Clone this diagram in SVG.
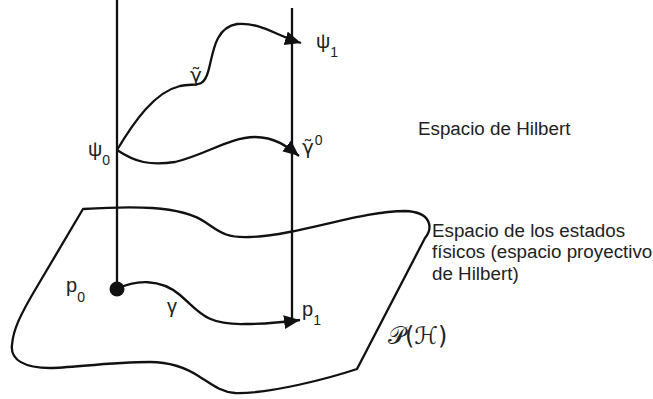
<svg xmlns="http://www.w3.org/2000/svg" width="653" height="399" viewBox="0 0 653 399">
<style>
.ln{fill:none;stroke:#111;stroke-width:2.3;stroke-linejoin:round}
.t{font-family:"Liberation Sans",Arial,sans-serif;fill:#222}
.g{font-family:"DejaVu Sans",sans-serif;font-size:20px;fill:#222}
.big{font-size:18.8px}
.sym{font-size:20px}
.sub{font-size:14px}
.cal{font-family:"DejaVu Sans","Liberation Serif",serif;font-size:24px;fill:#222}
</style>
<defs>
<marker id="ah" markerUnits="userSpaceOnUse" markerWidth="18" markerHeight="15" refX="16" refY="7" orient="auto">
<path d="M0,0 L16,7 L0,14 Z" fill="#111"/>
</marker>
</defs>
<rect width="653" height="399" fill="#fff"/>
<g id="surface">
<path class="ln" d="M83,209 C130,206 180,205 205,222 C220,232 225,238 250,237 C300,235 360,211 405,211 C432,212 433,228 425,238 L357,369 C330,378 270,394 235,393 C220,392 210,383 200,377 C185,367 170,362 150,362 C110,362 70,368 50,368 C25,368 10,360 12,345 C13,330 20,315 38,285 Z"/>
</g>
<g id="fibers">
<line class="ln" x1="117" y1="0" x2="117" y2="289"/>
<line class="ln" x1="292" y1="8" x2="292" y2="318"/>
<circle cx="117" cy="289" r="7.5" fill="#111"/>
</g>
<g id="connectors">
<path class="ln" marker-end="url(#ah)" d="M117,150 C135,120 155,92 180,86 C195,83 202,88 207,75 C213,60 212,28 237,24 C260,22 275,35 301,43"/>
<path class="ln" marker-end="url(#ah)" d="M117,150 C135,162 150,166 175,162 C205,155 230,137 255,137 C275,137 288,147 299,156"/>
<path class="ln" marker-end="url(#ah)" d="M117,289 C135,280 160,278 180,295 C200,312 205,325 245,324 C265,324 285,322 300,320"/>
</g>
<g id="label-psi0"><text class="t sym" x="88" y="156">ψ<tspan class="sub" dy="9">0</tspan></text></g>
<g id="label-psi1"><text class="t sym" x="316" y="48">ψ<tspan class="sub" dy="9">1</tspan></text></g>
<g id="label-gammatilde"><text class="g" x="190" y="82">γ̃</text></g>
<g id="label-gammatilde0"><text class="g" x="302" y="154">γ̃<tspan class="t sub" dx="1" dy="-9">0</tspan></text></g>
<g id="label-gamma"><text class="t sym" x="167" y="313">γ</text></g>
<g id="label-p0"><text class="t sym" x="66" y="292">p<tspan class="sub" dy="10">0</tspan></text></g>
<g id="label-p1"><text class="t sym" x="302" y="316">p<tspan class="sub" dy="9">1</tspan></text></g>
<g id="label-PH"><text class="cal" x="388" y="344">𝒫(ℋ)</text></g>
<g id="label-hilbert"><text class="t big" x="418" y="135">Espacio de Hilbert</text></g>
<g id="label-estados"><text class="t big" x="432" y="236.5">Espacio de los estados<tspan x="432" y="258">físicos (espacio proyectivo</tspan><tspan x="432" y="280">de Hilbert)</tspan></text></g>
</svg>
